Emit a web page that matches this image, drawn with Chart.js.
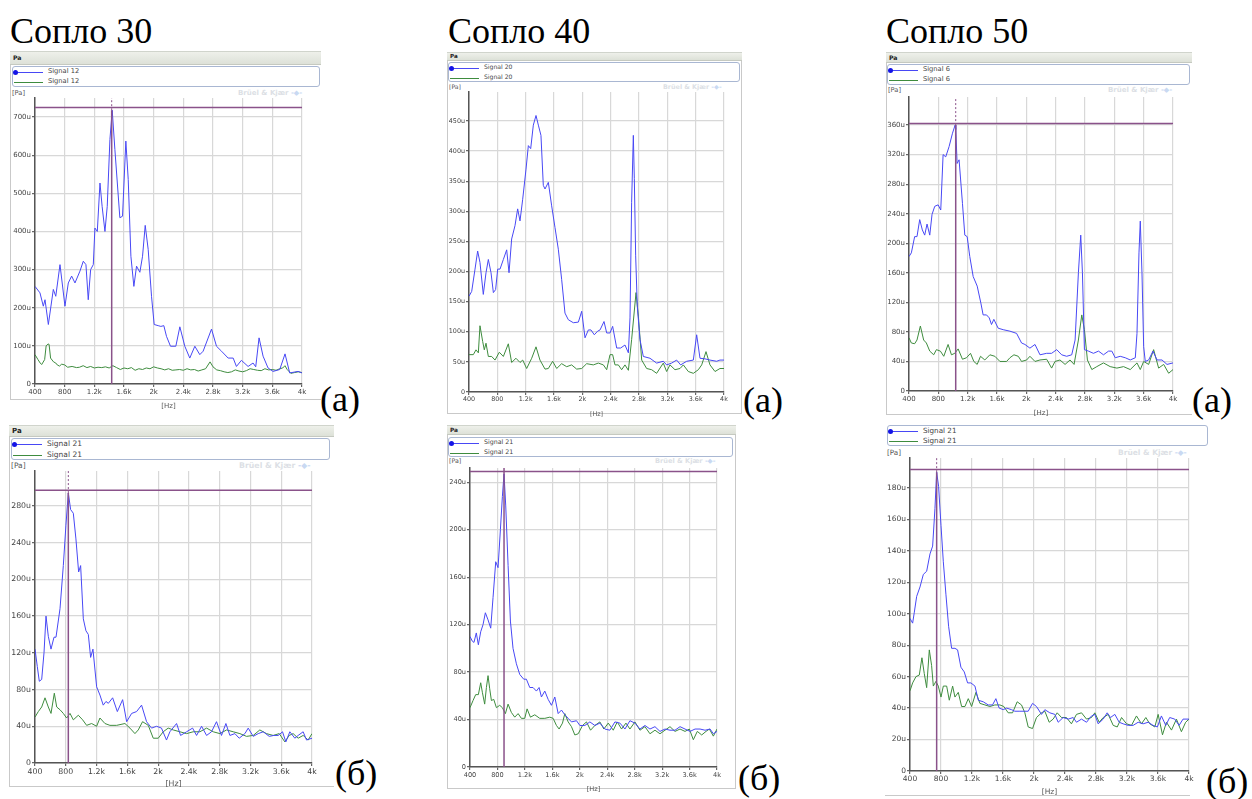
<!DOCTYPE html>
<html>
<head>
<meta charset="utf-8">
<script src="https://cdn.jsdelivr.net/npm/chart.js@4/dist/chart.umd.min.js"></script>
<style>
  body { margin:0; background:#fff; width:1252px; height:799px; position:relative; overflow:hidden; font-family:"DejaVu Sans", sans-serif; }
  .abs { position:absolute; }
  .serif { position:absolute; font-family:"Liberation Serif", serif; font-size:36px; line-height:36px; color:#000; white-space:nowrap; }
  .hdr { position:absolute; background:linear-gradient(#eef0ea,#dde1d8); border-bottom:1px solid #c5c9c0; border-top:1px solid #d0d4cc; font-weight:bold; color:#222; box-sizing:border-box; padding-left:3px; }
  .leg { position:absolute; border:1px solid #a9b7d2; border-radius:3px; background:#fff; box-sizing:border-box; }
  .txt { position:absolute; color:#444; white-space:nowrap; line-height:1; }
  .wm { position:absolute; color:#dcdfe5; font-weight:bold; white-space:nowrap; line-height:1; }
</style>
</head>
<body>
<script>
// x axis
const xTickLabels = ['400','800','1.2k','1.6k','2k','2.4k','2.8k','3.2k','3.6k','4k'];

// Сопло 30 (а)
const f30aBlue = [400,467,512,535,580,647,680,737,804,849,894,939,1006,1051,1087,1118,1150,1186,1208,1240,1276,1305,1343,1374,1410,1441,1477,1544,1580,1625,1657,1693,1733,1769,1814,1850,1886,1926,1971,2007,2061,2097,2137,2173,2227,2299,2353,2420,2487,2555,2622,2667,2780,2847,2915,3004,3072,3116,3183,3273,3340,3376,3421,3475,3542,3610,3700,3771,3834,3946,4000];
const v30aBlue = [256,239,204,221,156,248,230,313,204,265,283,265,296,322,313,221,300,313,409,400,527,466,400,466,641,718,615,436,440,637,536,335,256,309,293,335,416,353,230,156,153,151,153,125,99,99,150,99,68,99,77,86,144,99,86,68,68,46,62,46,55,45,121,73,42,33,38,79,29,33,29];
const f30aGreen = [400,440,470,490,530,550,575,590,610,650,680,700,730,760,800,840,900,960,1000,1050,1100,1150,1200,1250,1300,1350,1400,1450,1500,1550,1600,1650,1700,1750,1800,1850,1900,1950,2000,2050,2100,2150,2200,2250,2300,2350,2400,2450,2500,2550,2600,2650,2700,2760,2800,2850,2900,2950,3000,3050,3100,3150,3200,3250,3300,3350,3400,3450,3500,3550,3600,3650,3700,3740,3770,3800,3850,3900,3950,4000];
const v30aGreen = [77,64,55,51,64,100,105,104,68,58,55,50,47,52,50,44,46,43,44,48,43,46,42,44,43,45,42,48,43,38,42,40,43,36,40,38,42,40,45,42,40,37,40,36,37,38,36,40,37,38,34,37,40,58,45,37,35,32,30,32,37,34,32,35,40,38,36,35,40,37,38,36,40,42,48,38,28,30,32,30];

// Сопло 40 (а)
const f40aBlue = [400,438,485,522,555,602,640,673,711,744,776,805,838,885,932,965,1002,1049,1087,1120,1158,1205,1238,1271,1308,1346,1379,1416,1449,1473,1520,1567,1614,1661,1708,1755,1802,1873,1944,1991,2038,2085,2122,2169,2216,2250,2306,2344,2391,2428,2485,2541,2602,2650,2673,2696,2720,2734,2753,2776,2814,2861,2955,3049,3143,3190,3261,3331,3388,3473,3567,3614,3661,3732,3802,3896,3943,4000];
const v40aBlue = [159,167,204,234,215,162,198,220,198,165,170,204,204,220,236,198,254,276,304,284,320,370,409,404,443,459,443,426,343,337,348,309,273,237,187,131,120,115,116,134,90,103,103,95,101,103,117,98,98,109,73,73,78,65,123,315,426,354,226,142,87,59,56,48,51,45,48,53,45,51,53,95,56,55,53,51,53,53];
const f40aGreen = [400,461,499,532,555,593,616,640,673,720,767,828,885,955,1002,1063,1120,1158,1214,1285,1346,1402,1473,1520,1581,1638,1708,1779,1849,1920,1991,2061,2155,2226,2297,2344,2391,2428,2461,2508,2555,2602,2650,2696,2758,2791,2838,2908,2979,3049,3143,3190,3237,3308,3379,3426,3496,3567,3638,3685,3746,3802,3873,3943,4000];
const v40aGreen = [62,62,70,65,110,84,70,81,59,59,53,66,59,80,49,56,49,53,39,56,75,53,38,39,51,39,47,42,45,38,39,47,45,48,45,37,62,62,45,45,37,45,36,87,165,126,53,39,37,31,48,34,45,37,39,45,34,31,37,45,67,45,34,39,39];

// Сопло 50 (а)
const f50aBlue = [400,432,477,509,546,582,614,646,683,714,751,797,833,865,901,947,993,1029,1038,1056,1083,1129,1161,1193,1229,1275,1330,1380,1411,1457,1494,1525,1557,1616,1685,1776,1867,1935,1981,2049,2118,2186,2277,2345,2414,2482,2550,2619,2665,2710,2742,2765,2792,2847,2915,2984,3052,3121,3166,3212,3280,3349,3417,3486,3509,3536,3554,3577,3600,3622,3668,3727,3782,3850,3918,4000];
const v50aBlue = [182,187,209,209,232,218,211,226,211,239,250,252,245,320,317,331,349,360,354,308,313,254,211,209,182,155,142,119,103,103,99,90,97,85,83,81,78,65,63,58,63,49,51,51,56,49,47,49,69,160,211,160,56,54,51,54,49,54,54,45,47,45,42,45,78,187,230,160,60,40,42,54,42,42,36,38];
const f50aGreen = [400,432,477,509,555,600,637,683,737,774,828,874,933,979,1024,1070,1129,1184,1239,1284,1330,1375,1434,1503,1571,1640,1731,1776,1831,1890,1935,2004,2049,2118,2186,2277,2345,2391,2459,2528,2596,2651,2710,2756,2792,2833,2893,2961,3052,3143,3235,3326,3417,3509,3554,3600,3668,3736,3804,3873,3941,4000];
const v50aGreen = [72,65,64,69,88,69,65,54,49,56,54,47,63,49,51,57,43,45,51,40,36,47,42,49,47,40,40,45,49,47,40,42,47,40,42,43,31,40,42,36,42,36,69,103,83,42,29,33,38,33,31,33,29,38,29,40,36,56,31,36,24,29];

// Сопло 30 (б)
const f30bBlue = [400,430,456,487,517,543,573,608,647,673,725,768,802,833,863,898,932,967,993,1028,1062,1093,1123,1153,1201,1244,1287,1322,1353,1409,1470,1539,1591,1656,1720,1785,1850,1915,1980,2044,2109,2153,2240,2292,2370,2448,2500,2565,2630,2694,2759,2824,2881,2933,2998,3054,3128,3171,3236,3301,3366,3444,3504,3561,3617,3660,3712,3777,3820,3885,3929,4000];
const v30bBlue = [124,105,89,91,120,160,138,124,137,137,168,215,259,294,276,272,244,208,215,157,144,140,115,124,83,74,63,67,65,71,56,69,45,54,56,63,45,38,40,38,25,34,43,30,34,38,30,40,30,34,45,30,43,30,32,27,32,38,29,32,34,29,30,30,34,23,34,27,30,34,25,27];
const f30bGreen = [400,443,487,530,573,608,651,682,725,768,811,855,898,963,1019,1071,1136,1201,1244,1309,1374,1461,1569,1634,1699,1742,1798,1872,1937,2002,2066,2131,2196,2283,2370,2456,2543,2630,2716,2803,2890,2976,3063,3149,3236,3322,3409,3495,3574,3647,3703,3755,3820,3885,3950,4000];
const v30bGreen = [50,56,61,71,61,54,76,61,58,54,49,54,47,52,47,41,43,40,49,43,41,41,43,38,32,36,45,41,27,27,34,38,36,34,32,34,34,38,34,32,36,34,32,29,30,36,32,30,32,23,30,32,27,30,25,32];

// Сопло 40 (б)
const f40bBlue = [400,434,458,492,522,556,590,624,663,702,736,775,809,843,872,896,921,955,989,1027,1076,1125,1183,1222,1271,1319,1368,1407,1441,1490,1539,1587,1636,1685,1733,1782,1831,1879,1952,2001,2074,2147,2220,2293,2366,2439,2512,2585,2658,2731,2804,2877,2950,3023,3096,3169,3242,3315,3388,3461,3534,3607,3680,3753,3826,3899,3947,4000];
const v40bBlue = [110,106,105,113,103,114,120,130,124,117,143,173,168,200,228,247,220,170,123,100,87,78,74,74,67,67,64,67,59,64,57,52,59,45,48,44,41,38,39,35,35,38,35,37,32,31,38,37,32,39,37,32,35,32,34,30,32,31,31,34,32,30,32,32,31,32,28,30];
const f40bGreen = [400,444,483,522,556,580,614,639,663,687,712,746,785,833,872,916,955,1003,1052,1101,1149,1198,1232,1281,1344,1417,1490,1563,1612,1660,1699,1748,1782,1831,1879,1928,1977,2040,2098,2157,2220,2293,2351,2415,2488,2546,2609,2673,2731,2804,2877,2950,3023,3096,3169,3242,3315,3388,3461,3534,3597,3655,3713,3777,3840,3889,3947,4000];
const v40bGreen = [50,56,61,61,71,63,53,67,77,66,56,57,50,52,50,45,53,46,42,45,41,41,49,42,44,41,41,42,41,35,32,37,45,38,34,27,28,35,38,31,35,38,32,37,31,38,32,37,32,38,31,34,28,31,28,31,34,30,32,30,32,23,30,27,30,32,26,32];

// Сопло 50 (б)
const f50bBlue = [400,434,456,486,529,572,615,658,692,722,744,769,800,830,864,898,937,980,1014,1057,1100,1143,1186,1238,1281,1345,1410,1465,1508,1551,1603,1646,1710,1753,1818,1882,1925,1981,2032,2097,2140,2204,2269,2312,2376,2441,2506,2548,2613,2678,2742,2785,2828,2893,2944,2987,3043,3099,3150,3215,3279,3344,3408,3473,3537,3592,3644,3700,3751,3816,3872,3923,4000];
const v50bBlue = [97,94,101,111,117,125,127,138,143,167,190,181,156,133,112,92,78,78,77,66,63,56,56,54,45,44,42,42,46,40,39,40,39,38,38,38,38,43,41,36,39,37,36,31,34,33,34,31,33,31,35,36,30,33,37,34,36,31,30,29,29,31,30,31,29,28,35,29,34,33,29,33,33];
const f50bGreen = [400,434,477,520,554,584,615,649,679,701,735,765,800,830,873,907,950,980,1023,1066,1109,1152,1195,1251,1302,1367,1431,1495,1560,1611,1667,1723,1783,1839,1882,1925,1981,2032,2097,2140,2196,2247,2299,2355,2419,2483,2548,2613,2678,2742,2785,2841,2893,2958,3022,3074,3130,3194,3258,3322,3387,3443,3494,3559,3602,3658,3709,3774,3838,3902,3957,4000];
const v50bGreen = [51,56,60,61,72,62,53,77,67,54,57,54,47,54,54,45,54,47,50,41,41,46,41,50,43,42,41,42,42,41,37,37,44,42,37,28,27,34,37,38,31,33,37,34,34,30,36,37,33,34,37,31,34,36,29,28,34,30,29,35,30,34,30,28,36,23,31,26,33,25,31,33];

// cursor readings [freq, level, peak]
const cursor30a = [1434, 725, 718];
const cursor50a = [1037, 362, 360];
const cursor30b = [833, 297, 294];
const cursor40b = [896, 249, 247];
const cursor50b = [744, 191.7, 190];

const BLUE = 'rgb(72,72,245)', GREEN = 'rgb(62,140,62)', CUR = 'rgb(138,82,138)', GRID = '#d8d8d8';
const Y_W = 30, PAD_T = 8, PAD_R = 10, X_H = 26;

const panels = [
  { name:'Signal 12', fs:7, plot:{L:35,T:98,R:302,B:384}, ymax:750, step:100,
    blue:[f30aBlue,v30aBlue], green:[f30aGreen,v30aGreen], cur:cursor30a, dash:true,
    frame:{l:10,t:51,r:321,b:400,right:false}, hdr:[51,65], leg:{l:12,t:66,r:320,b:87}, pa:94, wm:302,
    label:{t:'(а)', x:320, base:411} },
  { name:'Signal 20', fs:6.4, plot:{L:469,T:92,R:724,B:392}, ymax:498, step:50,
    blue:[f40aBlue,v40aBlue], green:[f40aGreen,v40aGreen], cur:null,
    frame:{l:447,t:52,r:742,b:414,right:true}, hdr:[52,61], leg:{l:448,t:62,r:740,b:82}, pa:88, wm:722,
    label:{t:'(а)', x:743, base:412} },
  { name:'Signal 6', fs:7, plot:{L:909,T:97,R:1173,B:391}, ymax:398, step:40,
    blue:[f50aBlue,v50aBlue], green:[f50aGreen,v50aGreen], cur:cursor50a, dash:true,
    frame:{l:886,t:52,r:1192,b:415,right:false}, hdr:[52,63], leg:{l:887,t:64,r:1190,b:85}, pa:91, wm:1172,
    label:{t:'(а)', x:1192, base:412} },
  { name:'Signal 21', fs:7.8, plot:{L:35,T:471,R:312,B:763}, ymax:318, step:40,
    blue:[f30bBlue,v30bBlue], green:[f30bGreen,v30bGreen], cur:cursor30b, dash:true,
    frame:{l:9,t:425,r:334,b:787,right:false}, hdr:[425,437], leg:{l:11,t:438,r:330,b:460}, pa:466, wm:310,
    label:{t:'(б)', x:335, base:785} },
  { name:'Signal 21', fs:6.6, plot:{L:470,T:468,R:717,B:767}, ymax:252, step:40,
    blue:[f40bBlue,v40bBlue], green:[f40bGreen,v40bGreen], cur:cursor40b, dash:false,
    frame:{l:447,t:425,r:736,b:789,right:true}, hdr:[425,435], leg:{l:448,t:437,r:733,b:457}, pa:462, wm:715,
    label:{t:'(б)', x:738, base:790} },
  { name:'Signal 21', fs:7.5, plot:{L:910,T:458,R:1189,B:771}, ymax:199, step:20,
    blue:[f50bBlue,v50bBlue], green:[f50bGreen,v50bGreen], cur:cursor50b, dash:true,
    frame:{l:885,t:425,r:1190,b:796,right:false,noLeft:true}, hdr:null, leg:{l:887,t:425,r:1208,b:446}, pa:453, wm:1187,
    label:{t:'(б)', x:1206, base:793} }
];

function add(cls, css, html) {
  const d = document.createElement('div');
  d.className = cls;
  Object.assign(d.style, css);
  if (html !== undefined) d.innerHTML = html;
  document.body.appendChild(d);
  return d;
}

function pts(f, v) { return f.map((x, i) => ({x: x, y: v[i]})); }

// titles
[['Сопло 30', 10], ['Сопло 40', 448], ['Сопло 50', 886]].forEach(t => {
  add('serif', {left: t[1] + 'px', top: '13px'}, t[0]);
});

panels.forEach(p => {
  const fr = p.frame;
  add('abs', {left: fr.l + 'px', top: fr.t + 'px', width: (fr.r - fr.l) + 'px', height: (fr.b - fr.t) + 'px',
    borderLeft: fr.noLeft ? 'none' : '1px solid #c9c9c9', borderBottom: '1px solid #c9c9c9',
    borderRight: fr.right ? '1px solid #c9c9c9' : 'none', boxSizing: 'border-box'});
  if (p.hdr) {
    add('hdr', {left: fr.l + 'px', top: p.hdr[0] + 'px', width: (fr.r - fr.l) + 'px', height: (p.hdr[1] - p.hdr[0]) + 'px',
      fontSize: (p.fs - 0.8) + 'px', lineHeight: (p.hdr[1] - p.hdr[0] - 2) + 'px'}, 'Pa');
  }
  const lg = p.leg;
  add('leg', {left: lg.l + 'px', top: lg.t + 'px', width: (lg.r - lg.l) + 'px', height: (lg.b - lg.t) + 'px'});
  const rowH = (lg.b - lg.t) / 2;
  [BLUE, GREEN].forEach((c, i) => {
    const cy = lg.t + rowH * (i + 0.5) + 0.5;
    add('abs', {left: (lg.l + 2) + 'px', top: Math.round(cy) + 'px', width: '29px', height: '0', borderTop: '1px solid ' + c});
    if (i === 0) add('abs', {left: (lg.l + 1) + 'px', top: (Math.round(cy) - 2) + 'px', width: '5px', height: '5px', borderRadius: '50%', background: 'rgb(20,20,230)'});
    add('txt', {left: (lg.l + 36) + 'px', top: (cy - p.fs * 0.55) + 'px', fontSize: (p.fs - 0.3) + 'px'}, p.name);
  });
  add('txt', {left: (fr.l + 2) + 'px', top: (p.pa - p.fs * 0.55) + 'px', fontSize: (p.fs - 0.3) + 'px', color: '#555'}, '[Pa]');
  const wm = add('wm', {top: (p.pa - p.fs * 0.55) + 'px', fontSize: p.fs + 'px'},
    'Brüel &amp; Kjær <span style="color:#c9d9f2">-◆-</span>');
  wm.style.left = (p.wm - wm.offsetWidth) + 'px';
  add('serif', {left: p.label.x + 'px', top: (p.label.base - 30) + 'px'}, p.label.t);

  // chart
  const a = p.plot;
  const cw = (a.R - a.L) + Y_W + PAD_R, ch = (a.B - a.T) + PAD_T + X_H;
  const cv = document.createElement('canvas');
  cv.width = cw; cv.height = ch;
  Object.assign(cv.style, {position: 'absolute', left: (a.L - Y_W) + 'px', top: (a.T - PAD_T) + 'px', width: cw + 'px', height: ch + 'px'});
  document.body.appendChild(cv);

  const ds = [];
  if (p.cur) {
    const [cf, cl, pk] = p.cur;
    ds.push({data: [{x: 400, y: cl}, {x: 4000, y: cl}], borderColor: CUR, borderWidth: 1.5});
    ds.push({data: [{x: cf, y: 0}, {x: cf, y: p.dash ? pk : p.ymax}], borderColor: CUR, borderWidth: 1.5});
    if (p.dash) ds.push({data: [{x: cf, y: pk}, {x: cf, y: p.ymax}], borderColor: CUR, borderWidth: 1, borderDash: [2, 2]});
  }
  ds.push({data: pts(p.blue[0], p.blue[1]), borderColor: BLUE, borderWidth: 1});
  ds.push({data: pts(p.green[0], p.green[1]), borderColor: GREEN, borderWidth: 1});
  ds.forEach(d => { d.pointRadius = 0; d.tension = 0; d.fill = false; });

  const font = {family: '"DejaVu Sans", sans-serif', size: p.fs};
  new Chart(cv, {
    type: 'line',
    data: {datasets: ds},
    options: {
      responsive: false,
      animation: false,
      layout: {padding: {top: PAD_T, right: PAD_R, left: 0, bottom: 0}},
      plugins: {legend: {display: false}, tooltip: {enabled: false}},
      scales: {
        x: {
          type: 'linear', min: 400, max: 4000,
          ticks: {stepSize: 400, font: font, color: '#444', padding: 1, maxRotation: 0,
            callback: v => xTickLabels[Math.round((v - 400) / 400)]},
          grid: {color: GRID, lineWidth: 1.2, tickLength: 3, tickColor: '#666'},
          border: {color: '#555', width: 1.5},
          title: {display: true, text: '[Hz]', font: font, color: '#555', padding: {top: 1, bottom: 0}},
          afterFit: s => { s.height = X_H; }
        },
        y: {
          min: 0, max: p.ymax,
          afterBuildTicks: s => {
            const t = [];
            for (let v = 0; v < p.ymax; v += p.step) t.push({value: v});
            s.ticks = t;
          },
          ticks: {font: font, color: '#444', padding: 1,
            callback: v => v === 0 ? '0' : v + 'u'},
          grid: {color: GRID, lineWidth: 1.2, tickLength: 3, tickColor: '#666'},
          border: {color: '#555', width: 1.5},
          afterFit: s => { s.width = Y_W; }
        }
      }
    }
  });
});
</script>
</body>
</html>
